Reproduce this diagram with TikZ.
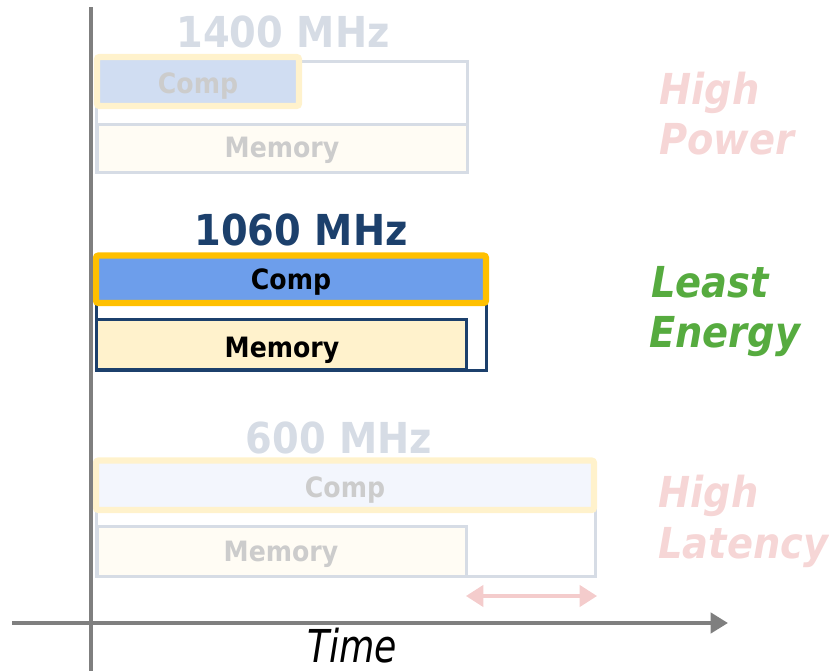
\documentclass[tikz,border=0pt]{standalone}
\usepackage{fontspec}
\setmainfont{DejaVu Sans}
\newfontfamily\vf[FakeStretch=0.9]{DejaVu Sans}
\newfontfamily\tf[FakeStretch=0.8]{DejaVu Sans}
\usetikzlibrary{arrows.meta}
\definecolor{axisgray}{HTML}{7F7F7F}
\definecolor{fadeline}{HTML}{D6DCE5}
\definecolor{fadeyel}{HTML}{FFF2CC}
\definecolor{fadeblue}{HTML}{D0DDF2}
\definecolor{fadeblue2}{HTML}{F3F6FD}
\definecolor{fademem}{HTML}{FFFCF4}
\definecolor{fadetext}{HTML}{CCCCCC}
\definecolor{darkblue}{HTML}{1C406C}
\definecolor{goldline}{HTML}{FFC000}
\definecolor{compblue}{HTML}{6D9EEB}
\definecolor{memyel}{HTML}{FFF2CC}
\definecolor{pinktxt}{HTML}{F6D6D6}
\definecolor{pinkarrow}{HTML}{F4CCCC}
\definecolor{greentxt}{HTML}{56AB3F}
\tikzset{
  title/.style={font=\vf\bfseries\fontsize{32}{38}\selectfont, inner sep=0pt, anchor=base},
  boxtext/.style={font=\vf\bfseries\fontsize{21}{25}\selectfont, inner sep=0pt, anchor=base},
  sidetext/.style={font=\vf\bfseries\itshape\fontsize{32}{38}\selectfont, inner sep=0pt, anchor=base west},
  fadebox/.style={draw=fadeline, line width=2.25pt},
  fadecomp/.style={draw=fadeyel, line width=4.8pt, rounded corners=2pt},
}
\begin{document}
\begin{tikzpicture}[x=0.75pt,y=-0.75pt]
\useasboundingbox (0,0) rectangle (829,671);

% ---- 1400 MHz group ----
\draw[fadebox] (96,61) rectangle (467,172);
\draw[fadebox, fill=fademem] (97,124) rectangle (467,172);
\draw[fadecomp, fill=fadeblue] (97,57) rectangle (299,106);
\node[title, text=fadeline] (t1400) at (283,47) {1400 MHz};
\node[boxtext, text=fadetext] (c1400) at (198,93) {Comp};
\node[boxtext, text=fadetext] (m1400) at (282,157) {Memory};

% ---- 1060 MHz group ----
\draw[draw=darkblue, line width=2.25pt] (96,300) rectangle (486,370);
\draw[draw=darkblue, line width=2.6pt, fill=memyel] (96.5,319.5) rectangle (466.5,369.5);
\draw[draw=goldline, line width=4.8pt, fill=compblue, rounded corners=2pt] (96,255.5) rectangle (486,303);
\node[title, text=darkblue] (t1060) at (301,245) {1060 MHz};
\node[boxtext, text=black] (c1060) at (291,289) {Comp};
\node[boxtext, text=black] (m1060) at (282,357) {Memory};

% ---- 600 MHz group ----
\draw[fadebox] (96,500) rectangle (595,576);
\draw[fadebox, fill=fademem] (97,526) rectangle (466,576);
\draw[fadecomp, fill=fadeblue2] (96,460.5) rectangle (594,510);
\node[title, text=fadeline] (t600) at (339,453) {600 MHz};
\node[boxtext, text=fadetext] (c600) at (345,497) {Comp};
\node[boxtext, text=fadetext] (m600) at (281,561) {Memory};

% ---- side labels ----
\node[sidetext, text=pinktxt] (hp1) at (659,104) {High};
\node[sidetext, text=pinktxt] (hp2) at (659,154) {Power};
\node[sidetext, text=greentxt] (le1) at (651,297) {Least};
\node[sidetext, text=greentxt] (le2) at (649,347) {Energy};
\node[sidetext, text=pinktxt] (hl1) at (658,507) {High};
\node[sidetext, text=pinktxt] (hl2) at (658,558) {Latency};

% ---- extra latency arrow ----
\coordinate (la) at (466,596);
\coordinate (lb) at (597,596);
\draw[pinkarrow, line width=2.4pt, {Triangle[length=13pt,width=16pt]}-{Triangle[length=13pt,width=16pt]}] (la) -- (lb);

% ---- axes ----
\coordinate (vtop) at (91,7);
\coordinate (vbot) at (91,671);
\coordinate (hl) at (12,623);
\coordinate (hr) at (728,623);
\draw[axisgray, line width=3.4pt] (vtop) -- (vbot);
\draw[axisgray, line width=3.4pt, -{Triangle[length=13pt,width=15pt]}] (hl) -- (hr);
\node[font=\tf\itshape\fontsize{34}{40}\selectfont, inner sep=0pt, anchor=base] (time) at (352,662) {Time};
\end{tikzpicture}
\end{document}
